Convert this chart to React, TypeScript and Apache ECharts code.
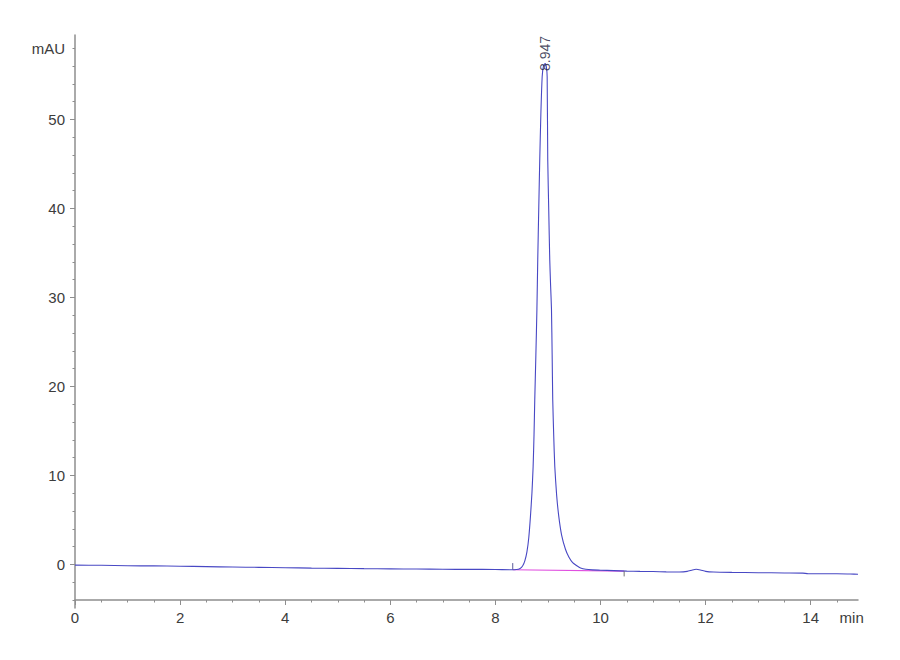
import React, { useEffect, useRef } from 'react';
import * as echarts from 'echarts';

// chromatogram trace (min, mAU)
const traceTime = [
    0, 0.5, 1, 1.5, 2, 2.5, 3, 3.5, 4, 4.5, 5, 5.5, 6, 6.5, 7, 7.5, 8, 8.3,
    8.4, 8.47, 8.52, 8.56, 8.6, 8.635, 8.667, 8.695, 8.718, 8.735, 8.749, 8.77, 8.79,
    8.806, 8.825, 8.844, 8.865, 8.89, 8.915, 8.947, 8.97, 8.985, 8.996, 9.015, 9.034,
    9.05, 9.067, 9.08, 9.091, 9.11, 9.13, 9.165, 9.206, 9.26, 9.333, 9.4, 9.47, 9.55,
    9.62, 9.72, 9.85, 10, 10.25, 10.5, 10.75, 11, 11.25, 11.5, 11.65, 11.75, 11.82,
    11.9, 12, 12.15, 12.5, 13, 13.5, 13.85, 13.95, 14.2, 14.5, 14.75, 14.9,
];
const traceMau = [
    -0.08, -0.1, -0.15, -0.17, -0.2, -0.25, -0.3, -0.33, -0.37, -0.42, -0.45, -0.48, -0.5, -0.52, -0.55, -0.56, -0.57, -0.6,
    -0.58, -0.45, -0.15, 0.4, 1.4, 3.0, 5.4, 8.0, 11.0, 14.6, 18.5, 23.5, 28.7,
    34.3, 40.0, 45.5, 50.6, 54.8, 56.0, 56.3, 55.9, 54.8, 45.5, 39.8, 34.3,
    31.4, 28.7, 23.5, 18.5, 14.4, 11.0, 7.8, 5.4, 3.3, 1.7, 0.8, 0.2, -0.15,
    -0.4, -0.55, -0.62, -0.65, -0.7, -0.75, -0.78, -0.8, -0.84, -0.85, -0.78, -0.62, -0.55,
    -0.62, -0.78, -0.86, -0.9, -0.93, -0.96, -0.98, -1.05, -1.05, -1.05, -1.08, -1.1,
];

// integration baseline under the peak
const baseTime = [8.33, 10.45];
const baseMau = [-0.6, -0.75];

// peak start / end markers
const startMarkTime = [8.33, 8.33];
const startMarkMau = [-0.6, 0.15];
const endMarkTime = [10.45, 10.45];
const endMarkMau = [-0.75, -1.35];

const peakTime = 8.947;
const peakMau = 56.3;
const peakLabel = '8.947';

const xLabelTicks = [0, 2, 4, 6, 8, 10, 12, 14];
const xMinorTicks = [
    0.5, 1, 1.5, 2.5, 3, 3.5, 4.5, 5, 5.5, 6.5, 7, 7.5,
    8.5, 9, 9.5, 10.5, 11, 11.5, 12.5, 13, 13.5, 14.5,
];
const xUnit = 'min';
const xUnitAt = 14.78;

const yLabelTicks = [0, 10, 20, 30, 40, 50];
const yMinorTicks = [
    -4, -2, 2, 4, 6, 8, 12, 14, 16, 18, 22, 24, 26, 28,
    32, 34, 36, 38, 42, 44, 46, 48, 52, 54, 56, 58,
];
const yUnit = 'mAU';
const yUnitAt = 58;

const zip = (a: number[], b: number[]) => a.map((v, i) => [v, b[i]]);

const AXIS_COLOR = '#8e8e8e';
const FONT = "'Liberation Sans Narrow', 'Liberation Sans', Arial, sans-serif";

export default function App(): JSX.Element {
    const chartRef = useRef<HTMLDivElement>(null);

    useEffect(() => {
        if (chartRef.current === null) return;
        const chart = echarts.init(chartRef.current, undefined, { renderer: 'svg' });

        const xRange = { type: 'value' as const, min: 0, max: 14.9, position: 'bottom' as const, offset: -8 };
        const yRange = { type: 'value' as const, min: -4.9, max: 59.5, position: 'left' as const };

        const option: echarts.EChartsOption = {
            animation: false,
            backgroundColor: '#ffffff',
            grid: { left: 75, right: 42, top: 35, bottom: 52, containLabel: false },
            xAxis: [
                {
                    ...xRange,
                    axisLine: { onZero: false, lineStyle: { color: AXIS_COLOR, width: 1.5 } },
                    axisTick: { show: true, length: 5, customValues: xLabelTicks, lineStyle: { color: AXIS_COLOR } },
                    axisLabel: {
                        customValues: [...xLabelTicks, xUnitAt],
                        formatter: (v: number) => (v === xUnitAt ? xUnit : String(v)),
                        color: '#3c3c3c',
                        fontSize: 15,
                        fontFamily: FONT,
                        margin: 10,
                    },
                    splitLine: { show: false },
                },
                {
                    ...xRange,
                    axisLine: { show: false, onZero: false },
                    axisTick: { show: true, length: 2.5, customValues: xMinorTicks, lineStyle: { color: AXIS_COLOR } },
                    axisLabel: { show: false },
                    splitLine: { show: false },
                },
            ],
            yAxis: [
                {
                    ...yRange,
                    axisLine: { show: true, lineStyle: { color: AXIS_COLOR, width: 1.5 } },
                    axisTick: { show: true, length: 5, customValues: yLabelTicks, lineStyle: { color: AXIS_COLOR } },
                    axisLabel: {
                        customValues: [...yLabelTicks, yUnitAt],
                        formatter: (v: number) => (v === yUnitAt ? yUnit : String(v)),
                        color: '#3c3c3c',
                        fontSize: 15,
                        fontFamily: FONT,
                        margin: 10,
                    },
                    splitLine: { show: false },
                },
                {
                    ...yRange,
                    axisLine: { show: false },
                    axisTick: { show: true, length: 2.5, customValues: yMinorTicks, lineStyle: { color: AXIS_COLOR } },
                    axisLabel: { show: false },
                    splitLine: { show: false },
                },
            ],
            series: [
                {
                    type: 'line',
                    name: 'baseline',
                    data: zip(baseTime, baseMau),
                    showSymbol: false,
                    lineStyle: { color: '#e050e0', width: 1.2 },
                    z: 1,
                },
                {
                    type: 'line',
                    name: 'trace',
                    data: zip(traceTime, traceMau),
                    showSymbol: false,
                    smooth: 0.2,
                    lineStyle: { color: '#4848c4', width: 1.1 },
                    z: 2,
                },
                {
                    type: 'line',
                    name: 'start',
                    data: zip(startMarkTime, startMarkMau),
                    showSymbol: false,
                    lineStyle: { color: '#5a5a9a', width: 1 },
                },
                {
                    type: 'line',
                    name: 'end',
                    data: zip(endMarkTime, endMarkMau),
                    showSymbol: false,
                    lineStyle: { color: '#707070', width: 1 },
                },
                {
                    type: 'scatter',
                    name: 'peak',
                    data: [[peakTime, peakMau]],
                    symbolSize: 1,
                    itemStyle: { color: 'rgba(0,0,0,0)' },
                    label: {
                        show: true,
                        formatter: peakLabel,
                        position: 'top',
                        distance: -8,
                        rotate: 90,
                        align: 'left',
                        verticalAlign: 'middle',
                        color: '#1c1c40',
                        fontSize: 14,
                        fontFamily: FONT,
                    },
                    z: 5,
                },
            ],
        };
        chart.setOption(option);

        return () => {
            chart.dispose();
        };
    }, []);

    return (
        <div
            ref={chartRef}
            style={{ position: 'absolute', left: 0, top: 0, width: 900, height: 660, background: '#fff' }}
        />
    );
}
